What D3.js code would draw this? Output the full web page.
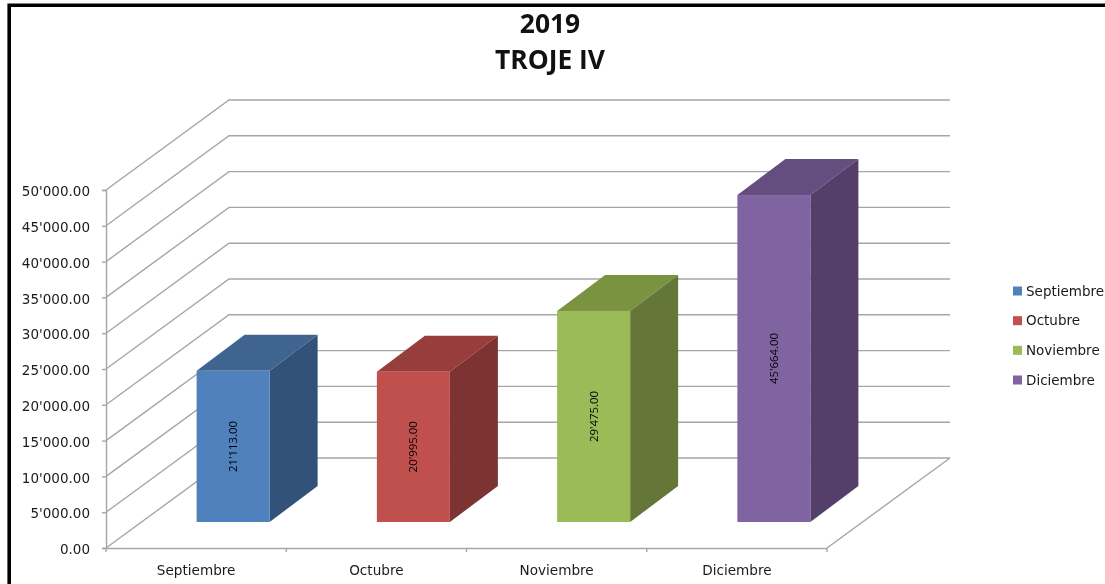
<!DOCTYPE html>
<html>
<head>
<meta charset="utf-8">
<script src="https://cdn.jsdelivr.net/npm/d3@7"></script>
<style>
  html, body { margin: 0; padding: 0; background: #fff; overflow: hidden; }
  /* the reference is a slightly soft screenshot */
  svg { display: block; filter: blur(0.35px); }
  text { font-family: "DejaVu Sans", sans-serif; fill: #1a1a1a; }
</style>
</head>
<body>
<div id="chart"></div>
<script>
// data
const titleLines = ["2019", "TROJE IV"];
const months = ["Septiembre", "Octubre", "Noviembre", "Diciembre"];
const amounts = [21113, 20995, 29475, 45664];
const yTicks = [0, 5000, 10000, 15000, 20000, 25000, 30000, 35000, 40000, 45000, 50000];
const frontColors = ["#4f81bd", "#c0504d", "#9bbb59", "#8064a2"];
const topColors = ["#3e648f", "#973e3c", "#7a9340", "#644e7f"];
const sideColors = ["#325279", "#7c3331", "#647739", "#533f69"];

const width = 1105, height = 584;

const svg = d3.select("#chart").append("svg")
    .attr("width", width)
    .attr("height", height);

// frame, only left and top are visible in the screenshot
svg.append("path")
    .attr("d", "M9.2,590V5.2H1110")
    .attr("fill", "none")
    .attr("stroke", "#000")
    .attr("stroke-width", 3.6);

// title
svg.append("g").selectAll("text")
    .data(titleLines)
    .enter().append("text")
    .attr("x", 550)
    .attr("y", (d, i) => 33 + i * 36)
    .attr("text-anchor", "middle")
    .style("font-family", "'Open Sans', sans-serif")
    .style("font-weight", 700)
    .style("font-size", "26.4px")
    .style("fill", "#111")
    .text(d => d);

// scales of the front plane
const x = d3.scaleBand().domain(months).range([106, 827]);
const y = d3.scaleLinear().domain([0, 50000]).range([548, 190]);
const fmt = d3.formatLocale({ decimal: ".", thousands: "'", grouping: [3], currency: ["", ""] }).format(",.2f");

// depth of the box, back wall is shifted by this much
const wallDx = 123, wallDy = 90;
const barFrontDx = 37, barFrontDy = 26;
const barDx = 48, barDy = 36;
const barWidth = 73;
const gridColor = "#a6a6a6";

// walls: one polyline per tick
svg.append("g").selectAll("path")
    .data(yTicks)
    .enter().append("path")
    .attr("d", d => `M${x.range()[0]},${y(d)}L${x.range()[0] + wallDx},${y(d) - wallDy}H${x.range()[1] + wallDx}`)
    .attr("fill", "none")
    .attr("stroke", gridColor)
    .attr("stroke-width", 1.4);

// floor edge
svg.append("path")
    .attr("d", `M${x.range()[1] + wallDx},${y(0) - wallDy}L${x.range()[1]},${y(0)}`)
    .attr("fill", "none")
    .attr("stroke", gridColor)
    .attr("stroke-width", 1.4);

// y axis
const yAxis = svg.append("g")
    .attr("transform", `translate(${x.range()[0]},0)`)
    .call(d3.axisLeft(y).tickValues(yTicks).tickFormat(fmt).tickSize(4).tickPadding(12));
yAxis.selectAll("path, line").attr("stroke", gridColor).attr("stroke-width", 1.4);
yAxis.selectAll("text")
    .style("font-size", "13.5px")
    .attr("fill", "#1a1a1a")
    .attr("dy", "0.42em");

// x axis, ticks sit between the bands
const xAxis = svg.append("g")
    .attr("transform", `translate(0,${y(0)})`)
    .call(d3.axisBottom(x).tickSize(0).tickPadding(17));
xAxis.select("path").attr("stroke", gridColor).attr("stroke-width", 1.4);
xAxis.selectAll("text").style("font-size", "13.6px").attr("fill", "#1a1a1a");
xAxis.selectAll("line.sep")
    .data(months.concat("end"))
    .enter().append("line")
    .attr("class", "sep")
    .attr("x1", (d, i) => i < months.length ? x(d) : x.range()[1])
    .attr("x2", (d, i) => i < months.length ? x(d) : x.range()[1])
    .attr("y2", 4)
    .attr("stroke", gridColor)
    .attr("stroke-width", 1.4);

// 3d bars
const bars = svg.append("g").selectAll("g")
    .data(months)
    .enter().append("g")
    .attr("transform", d => `translate(${x(d) + (x.bandwidth() - barWidth) / 2 + barFrontDx},${-barFrontDy})`);

const barTop = (d, i) => y(amounts[i]);

bars.append("path")
    .attr("d", (d, i) => `M0,${barTop(d, i)}l${barDx},${-barDy}h${barWidth}l${-barDx},${barDy}z`)
    .attr("fill", (d, i) => topColors[i]);
bars.append("path")
    .attr("d", (d, i) => `M${barWidth},${barTop(d, i)}l${barDx},${-barDy}V${y(0) - barDy}l${-barDx},${barDy}z`)
    .attr("fill", (d, i) => sideColors[i]);
bars.append("rect")
    .attr("x", 0)
    .attr("y", barTop)
    .attr("width", barWidth)
    .attr("height", (d, i) => y(0) - barTop(d, i))
    .attr("fill", (d, i) => frontColors[i]);

// value labels, rotated, centred on the front face
bars.append("text")
    .attr("transform", (d, i) => `translate(${barWidth / 2 + 4},${(barTop(d, i) + y(0)) / 2}) rotate(-90)`)
    .attr("text-anchor", "middle")
    .style("font-family", "'Open Sans', sans-serif")
    .style("font-size", "11.4px")
    .style("fill", "#000")
    .text((d, i) => fmt(amounts[i]));

// legend
const legendY = d3.scalePoint().domain(months).range([291, 380]);
const legend = svg.append("g").selectAll("g")
    .data(months)
    .enter().append("g")
    .attr("transform", d => `translate(1013,${legendY(d)})`);
legend.append("rect")
    .attr("y", -4.5)
    .attr("width", 9)
    .attr("height", 9)
    .attr("fill", (d, i) => frontColors[i]);
legend.append("text")
    .attr("x", 13)
    .attr("y", 4.5)
    .style("font-size", "13.5px")
    .text(d => d);
</script>
</body>
</html>
